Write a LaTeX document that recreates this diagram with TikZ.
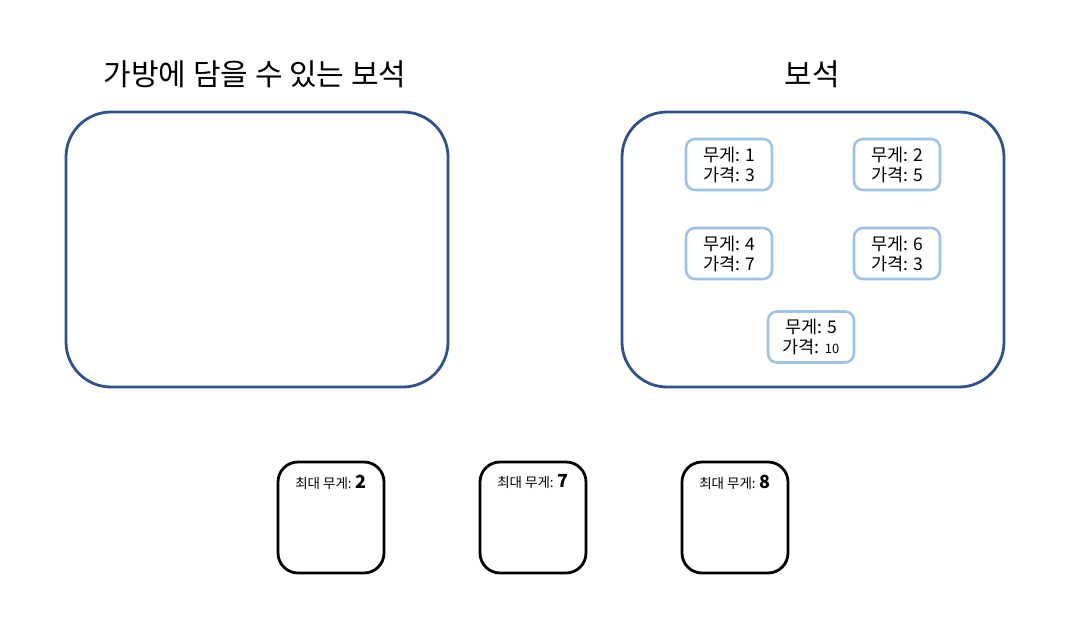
\documentclass[tikz,border=0pt]{standalone}
\usepackage{fontspec}
\setmainfont{Noto Sans CJK KR}
\usetikzlibrary{positioning}
\definecolor{bagblue}{HTML}{2F528F}
\definecolor{gemblue}{HTML}{9DC3E6}

\begin{document}
\begin{tikzpicture}[x=1pt,y=-1pt,
  bag/.style={draw=bagblue, line width=2.8pt, rounded corners=45pt, minimum width=382pt, minimum height=275pt},
  gem/.style={draw=gemblue, line width=2.6pt, rounded corners=9pt, minimum width=86pt, minimum height=51pt, inner sep=0pt, align=center, font=\fontsize{17.5}{20}\selectfont},
  knap/.style={draw=black, line width=2.8pt, rounded corners=20pt, minimum width=106pt, minimum height=111pt},
  title/.style={font=\fontsize{30}{34}\selectfont}]
\useasboundingbox (0,0) rectangle (1074,620);
% bags
\node[bag] (sack) at (257,249.5) {};
\node[bag] (jewels) at (813,249.5) {};
\node[title] (sacktitle) at (255,74) {가방에 담을 수 있는 보석};
\node[title] (jewelstitle) at (812,74) {보석};
% gems
\node[gem] (g1) at (729,164.5) {무게: 1\\가격: 3};
\node[gem] (g2) at (897,164.5) {무게: 2\\가격: 5};
\node[gem] (g3) at (729,253.5) {무게: 4\\가격: 7};
\node[gem] (g4) at (897,253.5) {무게: 6\\가격: 3};
\node[gem] (g5) at (811,337) {무게: 5\\가격: {\fontsize{13}{20}\selectfont 10}};
% knapsacks
\foreach \i/\x/\w in {1/331/2, 2/533/7, 3/735/8} {
  \node[knap] (k\i) at (\x,517.5) {};
  \node[inner sep=0pt, below=14pt of k\i.north] (cap\i) {{\fontsize{13.5}{15}\selectfont 최대 무게: }{\fontsize{18}{18}\selectfont\bfseries\w}};
}
\end{tikzpicture}
\end{document}
